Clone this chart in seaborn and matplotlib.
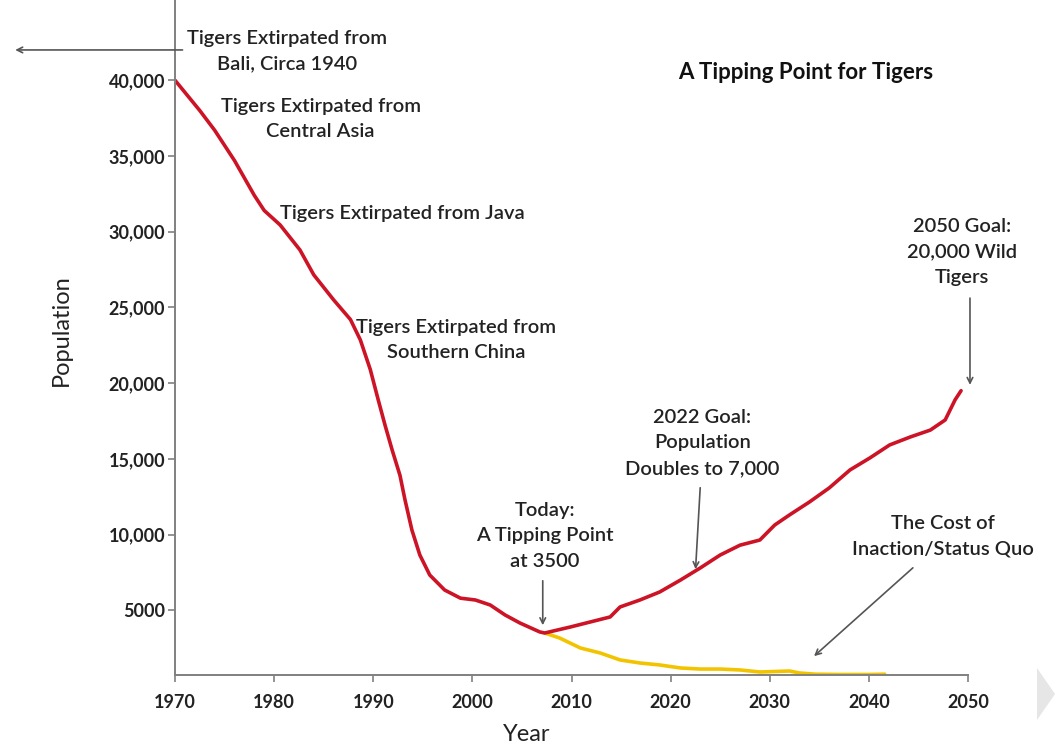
import matplotlib
matplotlib.use("Agg")
import matplotlib.pyplot as plt
import seaborn as sns
import pandas as pd
from matplotlib.patches import Polygon

# decline + recovery path (red)
red_years = [1970, 1972.5, 1974, 1976, 1978, 1979, 1980.6, 1982.6, 1984, 1986, 1987.7,
             1988.7, 1989.7, 1990.5, 1991.2, 1991.9, 1992.7, 1993.2, 1993.9, 1994.7,
             1995.7, 1997.2, 1998.8, 2000.3, 2001.8, 2003.3, 2004.8, 2006.8, 2007.3,
             2009.9, 2011.9, 2013.9, 2014.9, 2016.9, 2018.9, 2021, 2023, 2025, 2027,
             2029, 2030.5, 2032, 2034, 2036, 2038.1, 2040.1, 2042.1, 2044.2, 2046.2,
             2047.7, 2048.7, 2049.3]
red_pop = [40000, 38000, 36700, 34700, 32400, 31400, 30450, 28800, 27150, 25500, 24200,
           22850, 20900, 18900, 17200, 15600, 13900, 12300, 10300, 8650,
           7330, 6340, 5800, 5680, 5350, 4690, 4160, 3570, 3500,
           3900, 4230, 4560, 5220, 5680, 6210, 7000, 7800, 8650, 9300,
           9640, 10630, 11300, 12150, 13080, 14270, 15060, 15920, 16450, 16900,
           17570, 18900, 19500]

# status quo path (yellow)
yellow_years = [2007.3, 2008.8, 2010.9, 2012.9, 2014.9, 2016.9, 2018.9, 2021, 2023, 2025,
                2027, 2029, 2032, 2033, 2034.6, 2037, 2040, 2041.6]
yellow_pop = [3500, 3170, 2510, 2180, 1720, 1520, 1390, 1190, 1120, 1120,
              1060, 925, 990, 860, 780, 760, 760, 780]

y_ticks = [5000, 10000, 15000, 20000, 25000, 30000, 35000, 40000]
y_labels = ["5000", "10,000", "15,000", "20,000", "25,000", "30,000", "35,000", "40,000"]
x_ticks = [1970, 1980, 1990, 2000, 2010, 2020, 2030, 2040, 2050]

red_df = pd.DataFrame({"Year": red_years, "Population": red_pop})
yellow_df = pd.DataFrame({"Year": yellow_years, "Population": yellow_pop})

sns.set_style("ticks")
plt.rcParams["font.family"] = ["Lato", "Open Sans", "DejaVu Sans"]
txt = "#222222"

fig = plt.figure(figsize=(10.55, 7.48), dpi=100)
ax = fig.add_axes([175 / 1055, 73 / 748, 793 / 1055, 675 / 748])

sns.lineplot(data=yellow_df, x="Year", y="Population", ax=ax, color="#f2c400", lw=2.6)
sns.lineplot(data=red_df, x="Year", y="Population", ax=ax, color="#cc1426", lw=2.6)

ax.set_xlim(1970, 2050)
ax.set_ylim(727, 45300)
ax.set_xticks(x_ticks)
ax.set_yticks(y_ticks, y_labels)
sns.despine(ax=ax)
for s in ["left", "bottom"]:
    ax.spines[s].set_color("#808080")
    ax.spines[s].set_linewidth(1.4)
ax.tick_params(axis="x", length=5, width=1.2, color="#808080", pad=9,
               labelsize=13, labelcolor=txt)
ax.tick_params(axis="y", length=5, width=1.2, color="#808080", pad=2,
               labelsize=13, labelcolor=txt)
for lab in ax.get_xticklabels() + ax.get_yticklabels():
    lab.set_fontweight("bold")

ax.set_xlabel("Year", fontsize=17, color=txt)
ax.set_ylabel("Population", fontsize=17, color=txt)
ax.xaxis.set_label_coords(0.444, -0.072)
ax.yaxis.set_label_coords(-0.13, 0.511)

fs = 14.5
tkw = dict(ha="center", va="center", fontsize=fs, color=txt, fontweight="semibold",
           linespacing=1.6)
ax.text(1981.3, 41940, "Tigers Extirpated from\nBali, Circa 1940", **tkw)
ax.text(1984.7, 37450, "Tigers Extirpated from\nCentral Asia", **tkw)
ax.text(1992.9, 31175, "Tigers Extirpated from Java", **tkw)
ax.text(1998.4, 22850, "Tigers Extirpated from\nSouthern China", **tkw)
ax.text(2033.6, 40490, "A Tipping Point for Tigers", ha="center", va="center",
        fontsize=16, fontweight="bold", color="#111111")
ax.text(2049.4, 28665, "2050 Goal:\n20,000 Wild\nTigers", **tkw)
ax.text(2023.2, 16050, "2022 Goal:\nPopulation\nDoubles to 7,000", **tkw)
ax.text(2007.3, 9908, "Today:\nA Tipping Point\nat 3500", **tkw)
ax.text(2047.5, 9908, "The Cost of\nInaction/Status Quo", **tkw)

arrow = dict(arrowstyle="->", color="#555555", lw=1.2)
ax.annotate("", xy=(-0.205, 0.926), xytext=(0.013, 0.926), xycoords="axes fraction",
            arrowprops=arrow, annotation_clip=False)
ax.annotate("", xy=(2050.2, 19700), xytext=(2050.2, 25800), arrowprops=arrow,
            annotation_clip=False)
ax.annotate("", xy=(2022.5, 7530), xytext=(2023.0, 13276), arrowprops=arrow,
            annotation_clip=False)
ax.annotate("", xy=(2007.1, 3830), xytext=(2007.1, 7133), arrowprops=arrow,
            annotation_clip=False)
ax.annotate("", xy=(2034.26, 1850), xytext=(2044.65, 7926), arrowprops=arrow,
            annotation_clip=False)

# slide navigation marker at the right edge
fig.patches.append(Polygon([[1037 / 1055, 1 - 668 / 748], [1055 / 1055, 1 - 694 / 748],
                            [1037 / 1055, 1 - 720 / 748]], closed=True,
                           transform=fig.transFigure, facecolor="#e6e6e6",
                           edgecolor="none"))

fig.savefig("out.png", dpi=100)
